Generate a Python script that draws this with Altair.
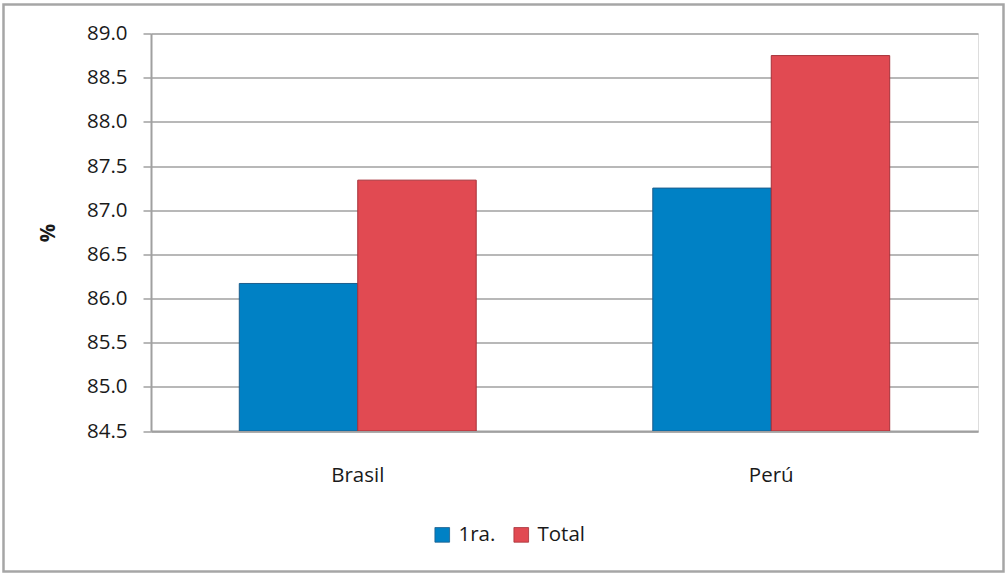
import altair as alt
import pandas as pd

# Survival rates (%) by country and cohort
paises = ["Brasil", "Perú"]
series = ["1ra.", "Total"]
valores_1ra = [86.17, 87.25]
valores_total = [87.34, 88.75]
y_ticks = [84.5, 85.0, 85.5, 86.0, 86.5, 87.0, 87.5, 88.0, 88.5, 89.0]
y_min, y_max = 84.5, 89.0

colores = ["#0081c5", "#e14a52"]
bordes = ["#1c5d8c", "#a63139"]

rows = []
for i, p in enumerate(paises):
    rows.append({"pais": p, "serie": series[0], "valor": valores_1ra[i], "base": y_min})
    rows.append({"pais": p, "serie": series[1], "valor": valores_total[i], "base": y_min})
df = pd.DataFrame(rows)

FONT = "Open Sans"
FS = 20.5
W, H = 827, 397.5
PAD_L, PAD_T = 151, 33.5

bars = alt.Chart(df).mark_bar(strokeWidth=1, clip=True).encode(
    x=alt.X(
        "pais:N",
        sort=paises,
        title=None,
        scale=alt.Scale(paddingInner=0.427, paddingOuter=0.2135),
        axis=alt.Axis(
            labelAngle=0,
            labelFontSize=FS,
            labelColor="#1a1a1a",
            labelPadding=34,
            ticks=False,
            domainColor="#a0a0a0",
            domainWidth=2,
            grid=False,
        ),
    ),
    xOffset=alt.XOffset("serie:N", sort=series),
    y=alt.Y(
        "valor:Q",
        title="%",
        scale=alt.Scale(domain=[y_min, y_max], zero=False, nice=False),
        axis=alt.Axis(
            values=y_ticks,
            format=".1f",
            labelFontSize=FS,
            labelColor="#1a1a1a",
            labelPadding=16,
            tickSize=8,
            tickColor="#a0a0a0",
            tickWidth=1.5,
            domainColor="#a0a0a0",
            domainWidth=2,
            gridColor="#a0a0a0",
            gridWidth=1.5,
            titleFontSize=FS,
            titleFontWeight="bold",
            titleColor="#1a1a1a",
            titleAngle=270,
            titleX=-103,
            titleY=199,
            titleAlign="center",
            titleBaseline="middle",
        ),
    ),
    y2="base:Q",
    color=alt.Color(
        "serie:N",
        sort=series,
        scale=alt.Scale(domain=series, range=colores),
        legend=alt.Legend(
            title=None,
            orient="none",
            direction="horizontal",
            legendX=281,
            legendY=491,
            symbolType="square",
            symbolSize=215,
            symbolStrokeColor="#555555",
            symbolStrokeWidth=0.8,
            labelFontSize=FS,
            labelColor="#1a1a1a",
            labelOffset=6,
            columnPadding=15,
        ),
    ),
    stroke=alt.Stroke(
        "serie:N",
        sort=series,
        scale=alt.Scale(domain=series, range=bordes),
        legend=None,
    ),
)

# Outer frame around the whole figure
frame = alt.Chart(alt.Data(values=[{}])).mark_rect(
    fill=None, stroke="#a6a6a6", strokeWidth=2.5
).encode(
    x=alt.value(-147.5),
    x2=alt.value(852.5),
    y=alt.value(-29),
    y2=alt.value(538),
)

chart = (
    alt.layer(bars, frame)
    .properties(
        width=W,
        height=H,
        autosize=alt.AutoSizeParams(type="none"),
        padding={"left": PAD_L, "top": PAD_T, "right": 1005 - PAD_L - W, "bottom": 574 - PAD_T - H},
        background="white",
    )
    .configure_view(fill="#e6e6e6", stroke=None)
    .configure(font=FONT)
)

chart.save("out.html", embed_options={"renderer": "svg", "actions": False})
